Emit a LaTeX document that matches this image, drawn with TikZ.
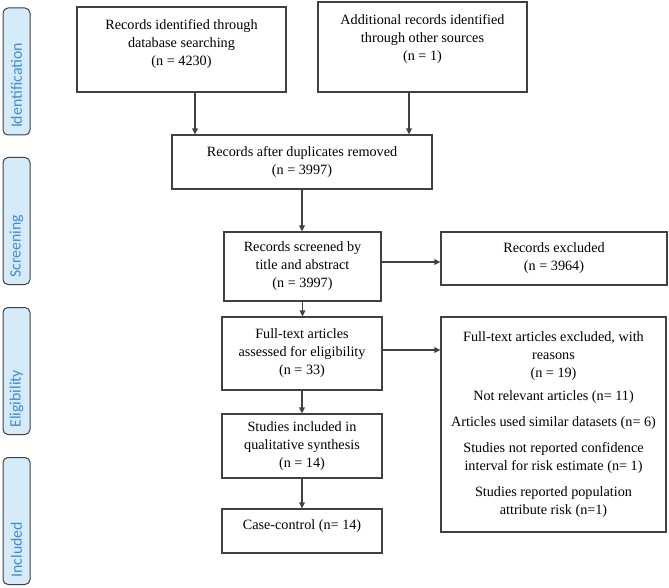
\documentclass[tikz,border=0pt]{standalone}
\usepackage{fontspec}
\setmainfont{Liberation Serif}
\newfontfamily\sidefont{Carlito}
\usetikzlibrary{arrows.meta}
\definecolor{sidefill}{RGB}{214,235,250}
\definecolor{sidetext}{RGB}{66,139,210}
\definecolor{lineg}{RGB}{64,64,64}

\begin{document}
\begin{tikzpicture}[x=1pt,y=-1pt,
		box/.style={draw=lineg,line width=1.1pt,align=center,inner sep=2pt,font=\fontsize{14.2}{18}\selectfont},
		phase/.style={draw=lineg,fill=sidefill,rounded corners=5pt,line width=1pt,rotate=90,text width=113pt,align=left,inner xsep=7pt,minimum height=27pt,text=sidetext,font=\sidefont\fontsize{15.8}{18}\selectfont},
		arr/.style={lineg,line width=1.2pt,-{Triangle[length=6pt,width=5.5pt]}}]
		\useasboundingbox (0,0) rectangle (669,588);
		\node[phase] (idf) at (16.5,71.5) {Identification};
		\node[phase] (scn) at (16.5,221) {Screening};
		\node[phase] (elg) at (16.5,371) {Eligibility};
		\node[phase] (inc) at (16.5,521) {Included};

		\node[box,minimum width=209pt,minimum height=85pt,text depth=14pt] (rec) at (181.5,49.5) {Records identified through\\ database searching\\ (n = 4230)};
		\node[box,minimum width=209pt,minimum height=90pt,text depth=18pt] (add) at (422.5,47) {Additional records identified\\ through other sources\\ (n = 1)};
		\node[box,minimum width=260pt,minimum height=54pt] (dup) at (302,162) {Records after duplicates removed\\ (n = 3997)};
		\node[box,minimum width=157pt,minimum height=69pt] (scr) at (302.5,266.5) {Records screened by\\ title and abstract\\ (n = 3997)};
		\node[box,minimum width=226pt,minimum height=53pt] (exc) at (554,258.5) {Records excluded\\ (n = 3964)};
		\node[box,minimum width=160pt,minimum height=73pt] (full) at (302,353.5) {Full-text articles\\ assessed for eligibility\\ (n = 33)};
		\node[box,minimum width=160pt,minimum height=64pt] (qual) at (302,446) {Studies included in\\ qualitative synthesis\\ (n = 14)};
		\node[box,minimum width=160pt,minimum height=44pt,text depth=12pt] (cc) at (302,531) {Case-control (n= 14)};
		\node[box,minimum width=225pt,minimum height=215pt] (fex) at (553.5,424.5) {Full-text articles excluded, with\\ reasons\\ (n = 19)\\[5pt] Not relevant articles (n= 11)\\[8pt] Articles used similar datasets (n= 6)\\[8pt] Studies not reported confidence\\ interval for risk estimate (n= 1)\\[8pt] Studies reported population\\ attribute risk (n=1)};

		\draw[arr] ([xshift=13.5pt]rec.south) -- ([xshift=13.5pt]rec.south |- dup.north);
		\draw[arr] ([xshift=-13.5pt]add.south) -- ([xshift=-13.5pt]add.south |- dup.north);
		\draw[arr] (dup.south) -- (dup.south |- scr.north);
		\draw[arr] ([yshift=4.5pt]scr.east) -- ([yshift=4.5pt]scr.east -| exc.west);
		\draw[arr] (scr.south) -- (scr.south |- full.north);
		\draw[arr] ([yshift=3.5pt]full.east) -- ([yshift=3.5pt]full.east -| fex.west);
		\draw[arr] (full.south) -- (qual.north);
		\draw[arr] (qual.south) -- (cc.north);
	\end{tikzpicture}
\end{document}
